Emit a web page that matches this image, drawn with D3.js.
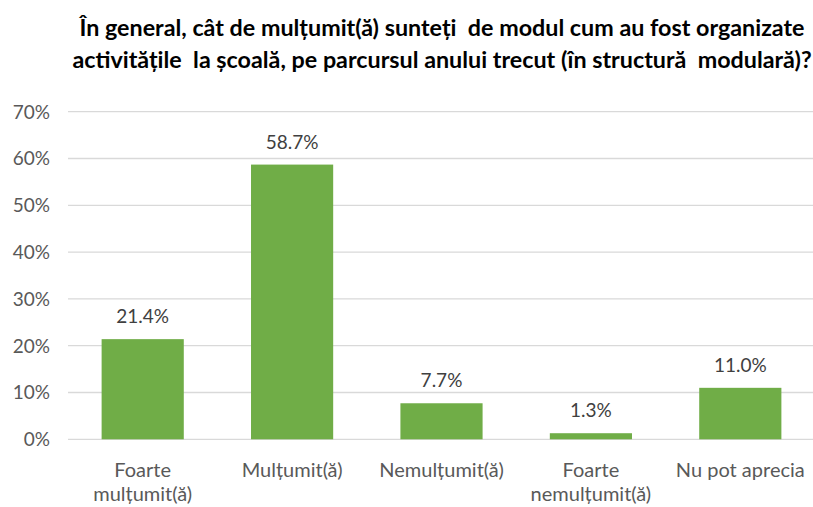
<!DOCTYPE html>
<html><head><meta charset="utf-8">
<script src="https://cdn.jsdelivr.net/npm/d3@7"></script>
<style>body{margin:0;background:#fff}svg{display:block}</style>
</head><body>
<svg id="c" width="813" height="507"></svg>
<script>
const titleLines = ["În general, cât de mulțumit(ă) sunteți  de modul cum au fost organizate",
                    "activitățile  la școală, pe parcursul anului trecut (în structură  modulară)?"];
const categories = [["Foarte","mulțumit(ă)"],["Mulțumit(ă)"],["Nemulțumit(ă)"],["Foarte","nemulțumit(ă)"],["Nu pot aprecia"]];
const values = [21.4, 58.7, 7.7, 1.3, 11.0];
const yTicks = [0,10,20,30,40,50,60,70];

const svg = d3.select("#c");
const font = "Lato, 'Open Sans', sans-serif";
const x = d3.scaleBand().domain(d3.range(values.length)).range([68, 815]).paddingInner(0.45).paddingOuter(0.225);
const y = d3.scaleLinear().domain([0,70]).range([439.3, 111.7]);

// gridlines
svg.append("g").selectAll("line").data(yTicks).join("line")
  .attr("x1",68).attr("x2",813)
  .attr("y1",d=>y(d)).attr("y2",d=>y(d))
  .attr("stroke","#d9d9d9").attr("stroke-width",1.3);

// y tick labels
svg.append("g").selectAll("text").data(yTicks).join("text")
  .attr("x",50).attr("y",d=>y(d)).attr("dy","0.36em")
  .attr("text-anchor","end").attr("font-family",font).attr("font-size",19)
  .attr("fill","#595959").text(d=>d+"%");

// bars
svg.append("g").selectAll("rect").data(values).join("rect")
  .attr("x",(d,i)=>x(i)).attr("width",x.bandwidth())
  .attr("y",d=>y(d)).attr("height",d=>y(0)-y(d))
  .attr("fill","#70ad47");

// data labels
svg.append("g").selectAll("text").data(values).join("text")
  .attr("x",(d,i)=>x(i)+x.bandwidth()/2).attr("y",d=>y(d)-16)
  .attr("text-anchor","middle").attr("font-family",font).attr("font-size",19)
  .attr("fill","#404040").text(d=>d.toFixed(1)+"%");

// category labels
const cg = svg.append("g").selectAll("text").data(categories).join("text")
  .attr("x",(d,i)=>x(i)+x.bandwidth()/2).attr("y",477)
  .attr("text-anchor","middle").attr("font-family",font).attr("font-size",20)
  .attr("fill","#595959");
cg.selectAll("tspan").data(d=>d).join("tspan")
  .attr("x",function(){return this.parentNode.getAttribute("x");})
  .attr("dy",(d,i)=>i===0?0:24).text(d=>d);

// title
svg.append("g").selectAll("text").data(titleLines).join("text")
  .attr("x",442).attr("y",(d,i)=>36+i*32)
  .attr("text-anchor","middle").attr("font-family",font).attr("font-size",23.3)
  .attr("font-weight","bold").attr("fill","#000").style("white-space","pre").text(d=>d);
</script>
</body></html>
